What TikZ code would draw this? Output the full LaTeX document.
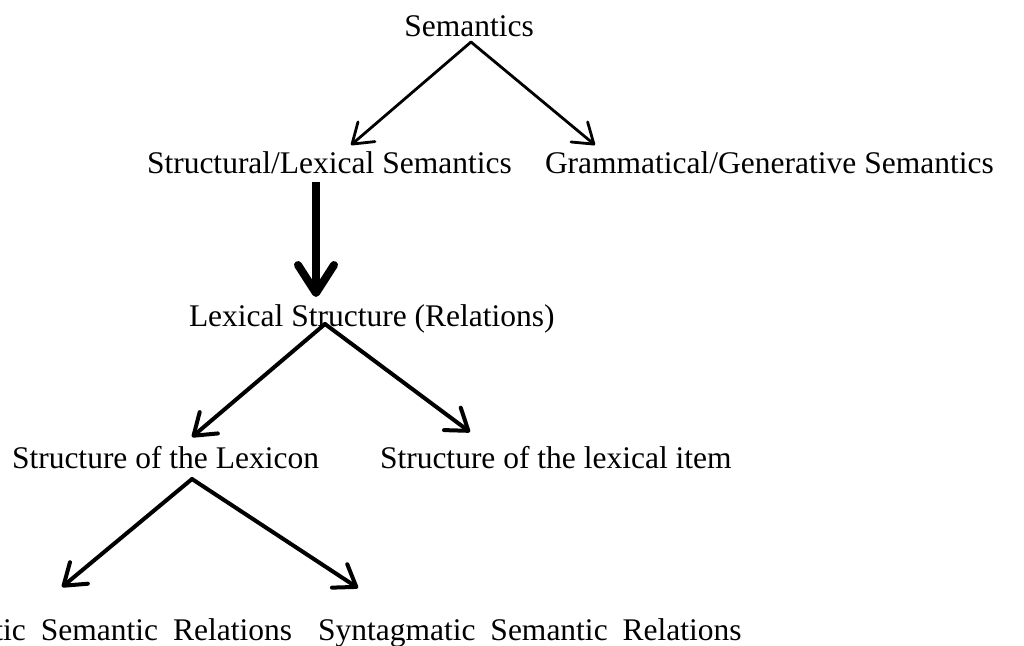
\documentclass[tikz,border=0pt]{standalone}
\usepackage{fontspec}
\setmainfont{Liberation Serif}
\usetikzlibrary{arrows.meta}
\begin{document}
\begin{tikzpicture}[x=0.5pt,y=-0.5pt,
  lbl/.style={inner sep=0pt, outer sep=0pt, font=\fontsize{15.75}{18}\selectfont},
  wide/.style={lbl, execute at begin node={\spaceskip=7.5pt\relax}},
  arrA/.style={line width=1.4pt, line cap=round, line join=round, -{Straight Barb[length=9.5pt,width=13pt,round]}},
  arrB/.style={line width=2pt, line cap=round, line join=round, -{Straight Barb[length=10pt,width=14pt,round]}},
  arrC/.style={line width=4pt, line cap=butt, -{Straight Barb[length=14pt,width=18pt,round]}}]
\useasboundingbox (0,0) rectangle (1024,645);
\clip (0,0) rectangle (1024,645);

% text nodes
\node[lbl, anchor=base] (sem) at (469,36) {Semantics};
\node[lbl, anchor=base west] (sls) at (147,173) {Structural/Lexical Semantics};
\node[lbl, anchor=base west] (ggs) at (545,173) {Grammatical/Generative Semantics};
\node[lbl, anchor=base west] (lsr) at (189,326) {Lexical Structure (Relations)};
\node[lbl, anchor=base west] (sol) at (12,468) {Structure of the Lexicon};
\node[lbl, anchor=base west] (sli) at (380,468) {Structure of the lexical item};
\node[wide, anchor=base east] (psr) at (292,640) {Paradigmatic Semantic Relations};
\node[wide, anchor=base west] (ssr) at (318,640) {Syntagmatic Semantic Relations};

% connector end points
\coordinate (semApex) at (471,42);
\coordinate (slsTip) at (351,145);
\coordinate (ggsTip) at (595,145);
\coordinate (slsFoot) at (316,182);
\coordinate (lsrTip) at (316,297);
\coordinate (lsrApex) at (325,324);
\coordinate (solTip) at (192,437);
\coordinate (sliTip) at (470,432);
\coordinate (solApex) at (192,479);
\coordinate (psrTip) at (62,587);
\coordinate (ssrTip) at (358,588);

% connectors
\draw[arrA] (semApex) -- (slsTip);
\draw[arrA] (semApex) -- (ggsTip);
\draw[arrC] (slsFoot) -- (lsrTip);
\draw[arrB] (lsrApex) -- (solTip);
\draw[arrB] (lsrApex) -- (sliTip);
\draw[arrB] (solApex) -- (psrTip);
\draw[arrB] (solApex) -- (ssrTip);
\end{tikzpicture}
\end{document}
